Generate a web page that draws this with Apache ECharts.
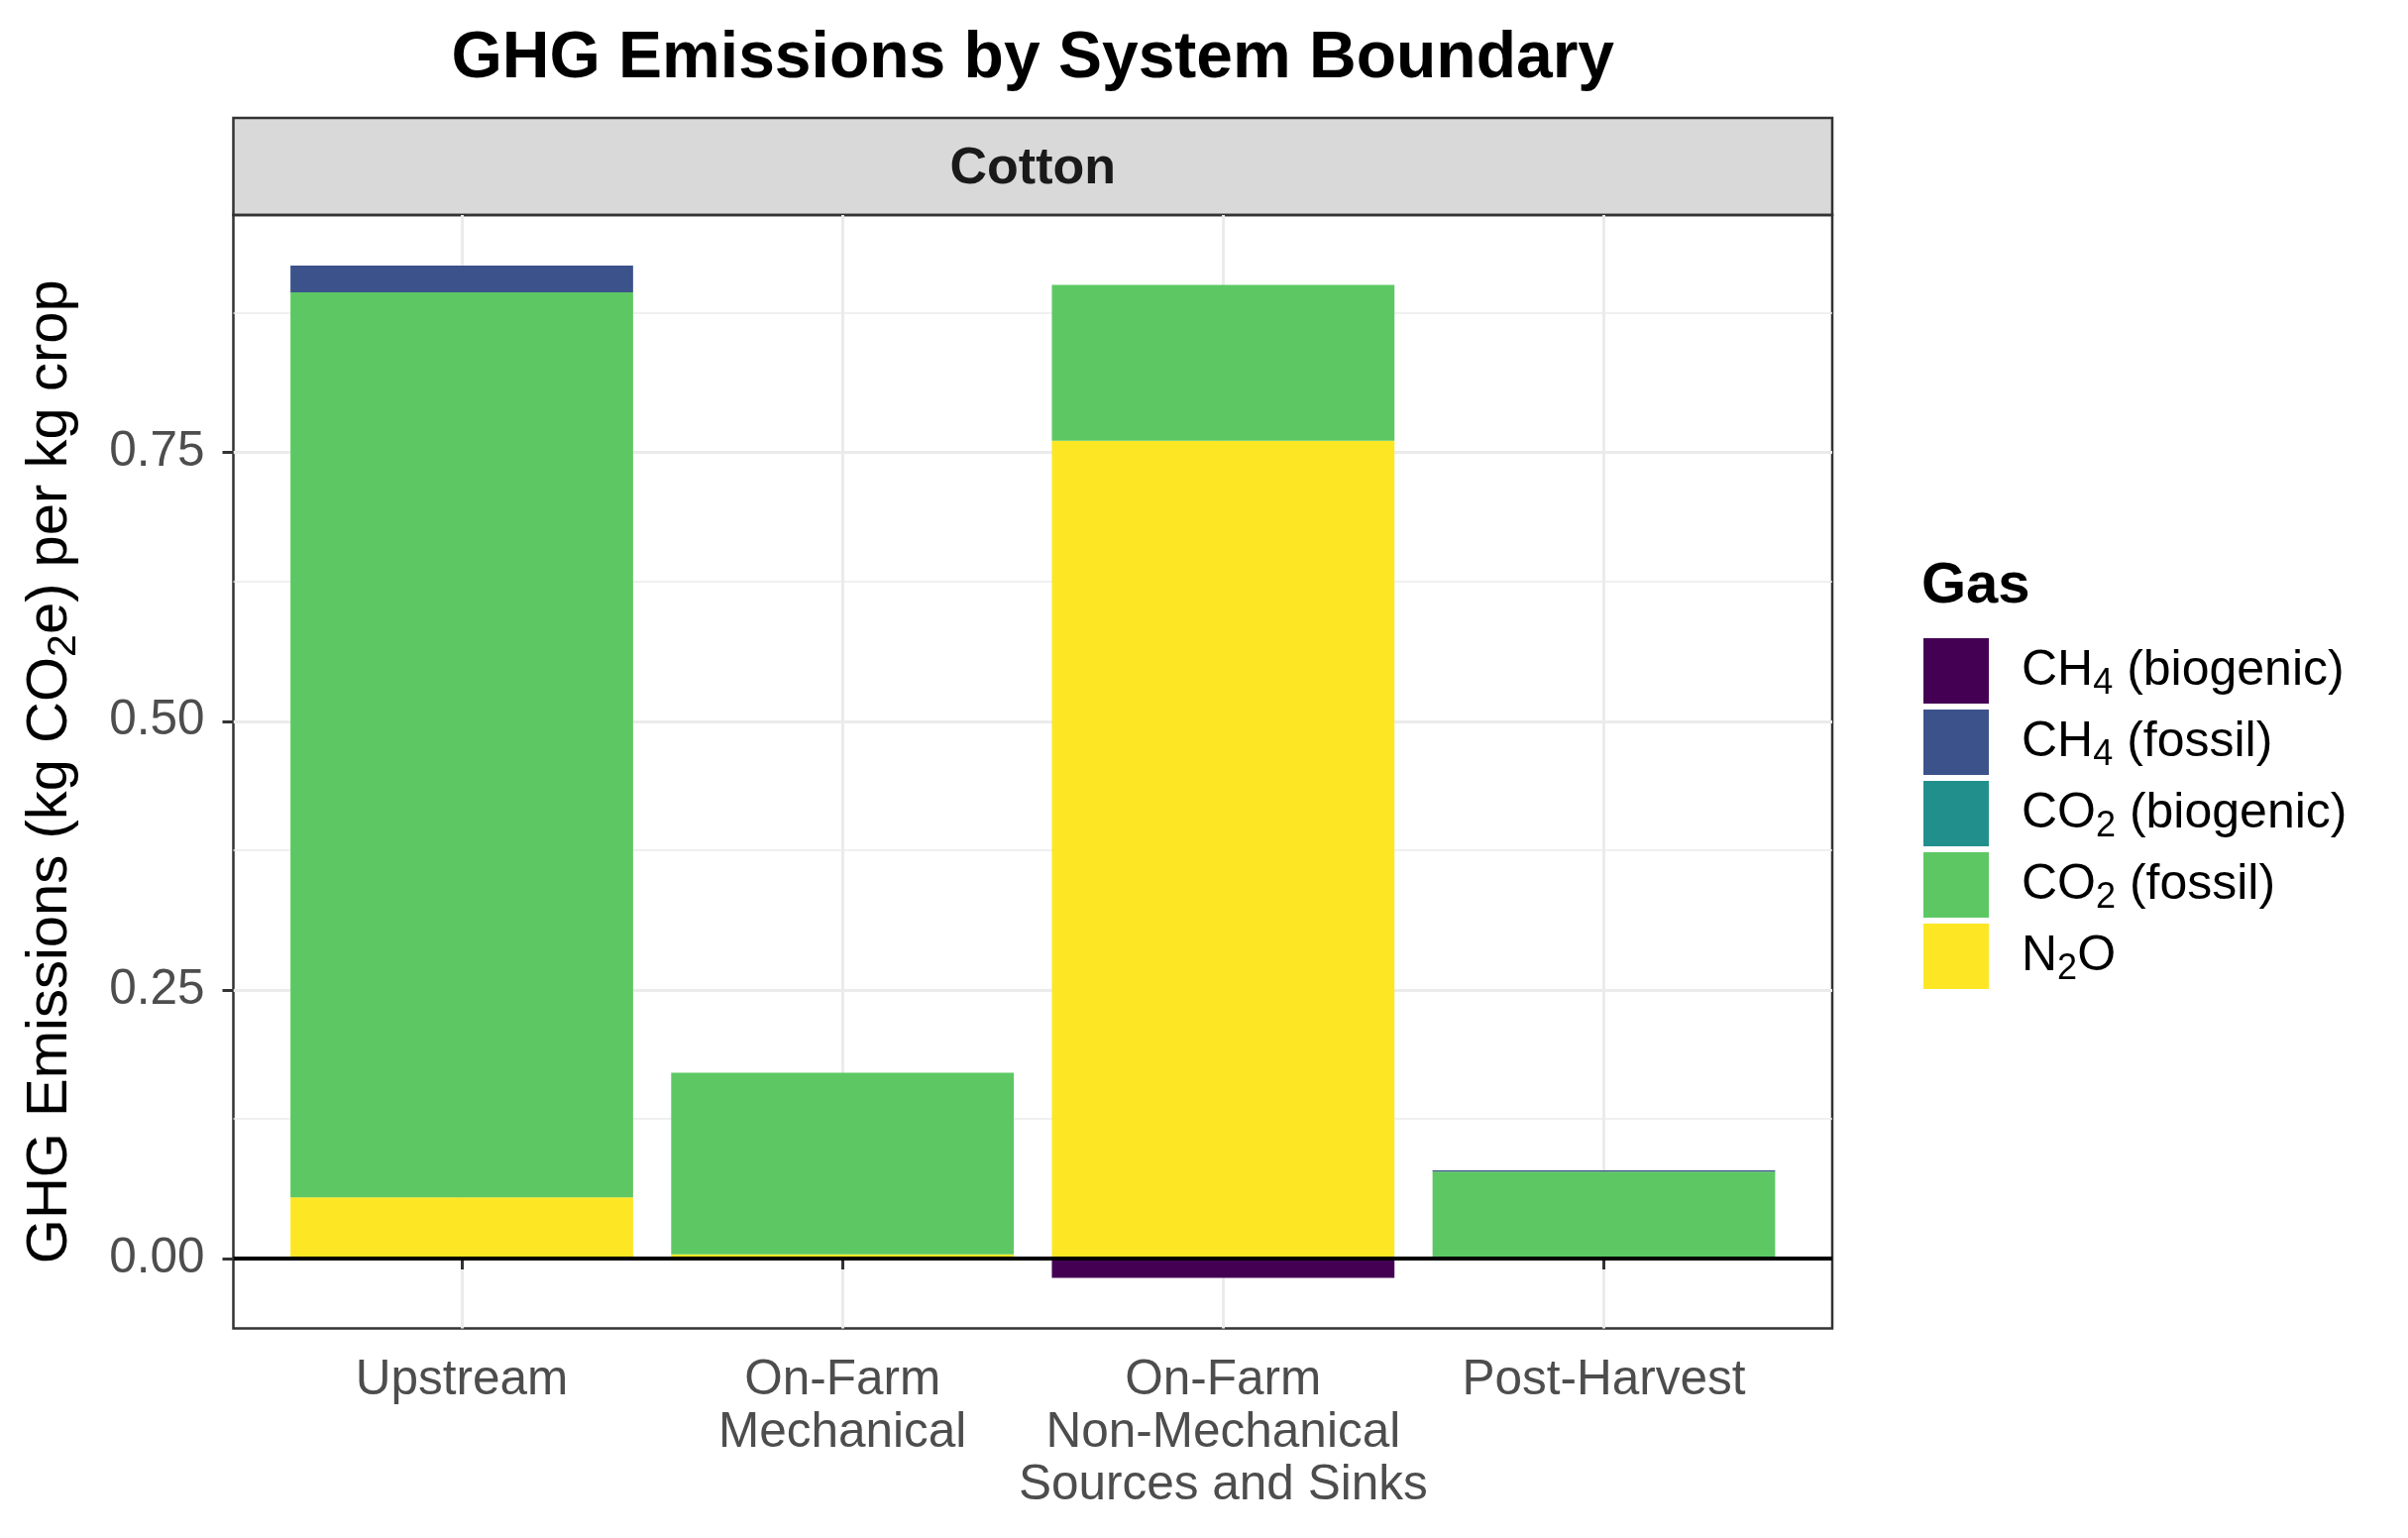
<!DOCTYPE html>
<html>
<head>
<meta charset="utf-8">
<script src="https://cdn.jsdelivr.net/npm/echarts@6/dist/echarts.min.js"></script>
<style>
html,body{margin:0;padding:0;background:#fff;}
#chart{width:2430px;height:1552px;}
</style>
</head>
<body>
<div id="chart"></div>
<script>
// ---- Data ----
const categories = ['Upstream', 'On-Farm\nMechanical', 'On-Farm\nNon-Mechanical\nSources and Sinks', 'Post-Harvest'];
const gasNames = ['CH4 (biogenic)', 'CH4 (fossil)', 'CO2 (biogenic)', 'CO2 (fossil)', 'N2O'];
const ch4Biogenic = [0, 0, -0.018, 0];
const ch4Fossil = [0.025, 0, 0, 0.001];
const co2Biogenic = [0, 0, 0, 0];
const co2Fossil = [0.842, 0.169, 0.145, 0.081];
const n2o = [0.057, 0.004, 0.761, 0];
const yTicks = [0, 0.25, 0.5, 0.75];
const yMinorTicks = [0.125, 0.375, 0.625, 0.875];
const colors = {
  'CH4 (biogenic)': '#440154',
  'CH4 (fossil)': '#3B528B',
  'CO2 (biogenic)': '#21908C',
  'CO2 (fossil)': '#5DC863',
  'N2O': '#FDE725'
};

const FONT = '"Liberation Sans", Arial, Helvetica, sans-serif';
const gridLeft = 235.5, gridTop = 217, gridRight = 581, gridBottom = 211.5;
const panelW = 2430 - gridLeft - gridRight;
const panelCx = gridLeft + panelW / 2;
const Y_MIN = -0.065, Y_MAX = 0.971;
// ggplot discrete scale spans [0.4, n + 0.6]; ECharts category axis spans [0.5, n + 0.5]
const unitPx = panelW / (categories.length - 1 + 1.2);
const barGridInset = 0.1 * unitPx;

// discrete positions 1..n for the panel axis
const catPos = categories.map((c, i) => i + 1);

function sub(name) { return name.replace(/([A-Z])(\d)/, '$1{s|$2}'); }

// stacking order: first series at bottom (ggplot stacks first level on top)
const stackOrder = [
  ['N2O', n2o],
  ['CO2 (fossil)', co2Fossil],
  ['CO2 (biogenic)', co2Biogenic],
  ['CH4 (fossil)', ch4Fossil],
  ['CH4 (biogenic)', ch4Biogenic]
];

const barSeries = stackOrder.map(([name, vals]) => ({
  name: name,
  type: 'bar',
  stack: 'total',
  xAxisIndex: 1,
  yAxisIndex: 1,
  data: vals,
  barWidth: '90%',
  itemStyle: { color: colors[name], borderWidth: 0 },
  emphasis: { disabled: true },
  z: 2
}));

const gridLineData = []
  .concat(yMinorTicks.map(v => ({ yAxis: v, lineStyle: { color: '#EBEBEB', width: 1.5, type: 'solid' } })))
  .concat(yTicks.map(v => ({ yAxis: v, lineStyle: { color: '#EBEBEB', width: 3, type: 'solid' } })))
  .concat(catPos.map(p => ({ xAxis: p, lineStyle: { color: '#EBEBEB', width: 3, type: 'solid' } })));

const gridSeries = {
  name: '_grid',
  type: 'line',
  xAxisIndex: 0,
  yAxisIndex: 0,
  data: [],
  silent: true,
  z: 0,
  markLine: {
    silent: true,
    z: 0,
    animation: false,
    symbol: ['none', 'none'],
    label: { show: false },
    lineStyle: { type: 'solid' },
    emphasis: { disabled: true },
    data: gridLineData
  }
};

const zeroSeries = {
  name: '_zero',
  type: 'line',
  xAxisIndex: 0,
  yAxisIndex: 0,
  data: [],
  silent: true,
  z: 10,
  markLine: {
    silent: true,
    z: 10,
    animation: false,
    symbol: ['none', 'none'],
    label: { show: false },
    lineStyle: { type: 'solid', color: '#000', width: 4 },
    emphasis: { disabled: true },
    data: [{ yAxis: 0 }]
  }
};

const chart = echarts.init(document.getElementById('chart'), null, { renderer: 'canvas' });
chart.setOption({
  animation: false,
  backgroundColor: '#ffffff',
  textStyle: { fontFamily: FONT },
  title: [
    {
      text: 'GHG Emissions by System Boundary',
      left: panelCx, top: 27, textAlign: 'center', padding: 0,
      textStyle: { fontSize: 66, fontWeight: 'bold', color: '#000', fontFamily: FONT }
    },
    {
      text: 'Cotton',
      left: panelCx, top: 145, textAlign: 'center', padding: 0,
      textStyle: { fontSize: 52, fontWeight: 'bold', color: '#1A1A1A', fontFamily: FONT }
    },
    {
      text: 'Gas',
      left: 1939, top: 563, padding: 0,
      textStyle: { fontSize: 58, fontWeight: 'bold', color: '#000', fontFamily: FONT }
    }
  ],
  graphic: [
    {
      type: 'rect',
      shape: { x: gridLeft, y: 119, width: panelW, height: gridTop - 119 },
      style: { fill: '#D9D9D9', stroke: '#333333', lineWidth: 2.5 },
      z: -1
    }
  ],
  grid: [
    {
      left: gridLeft, top: gridTop, right: gridRight, bottom: gridBottom,
      show: true, borderColor: '#333333', borderWidth: 2.5, backgroundColor: 'transparent'
    },
    {
      left: gridLeft + barGridInset, top: gridTop,
      right: gridRight + barGridInset, bottom: gridBottom,
      show: false
    }
  ],
  legend: {
    data: gasNames,
    orient: 'vertical',
    left: 1941, top: 644,
    padding: 0,
    itemWidth: 66, itemHeight: 66, itemGap: 6,
    icon: 'rect',
    selectedMode: false,
    formatter: sub,
    textStyle: {
      fontSize: 50, color: '#000', fontFamily: FONT, padding: [0, 0, 0, 28],
      rich: { s: { fontSize: 36, color: '#000', fontFamily: FONT, padding: [26, 0, 0, 0] } }
    }
  },
  xAxis: [
    {
      gridIndex: 0,
      type: 'value',
      min: 0.4, max: 4.6,
      axisLine: { show: false },
      axisTick: { show: true, length: 11, customValues: catPos, lineStyle: { color: '#333333', width: 3 } },
      axisLabel: {
        color: '#4D4D4D', fontSize: 49.5, lineHeight: 53, margin: 26, fontFamily: FONT,
        customValues: catPos,
        formatter: v => categories[Math.round(v) - 1] || ''
      },
      splitLine: { show: false }
    },
    {
      gridIndex: 1,
      type: 'category',
      data: categories,
      boundaryGap: true,
      show: false
    }
  ],
  yAxis: [
    {
      gridIndex: 0,
      type: 'value',
      min: Y_MIN, max: Y_MAX,
      axisLine: { show: false },
      axisTick: { show: true, length: 11, customValues: yTicks, lineStyle: { color: '#333333', width: 3 } },
      axisLabel: {
        color: '#4D4D4D', fontSize: 49.5, margin: 29, fontFamily: FONT,
        customValues: yTicks,
        formatter: v => v.toFixed(2)
      },
      splitLine: { show: false },
      name: 'GHG Emissions (kg CO{s|2}e) per kg crop',
      nameLocation: 'middle',
      nameGap: 150,
      nameTextStyle: {
        fontSize: 58, color: '#000', fontFamily: FONT,
        rich: { s: { fontSize: 41, color: '#000', fontFamily: FONT, padding: [28, 0, 0, 0] } }
      }
    },
    {
      gridIndex: 1,
      type: 'value',
      min: Y_MIN, max: Y_MAX,
      show: false,
      splitLine: { show: false }
    }
  ],
  series: [gridSeries].concat(barSeries).concat([zeroSeries])
});
</script>
</body>
</html>
